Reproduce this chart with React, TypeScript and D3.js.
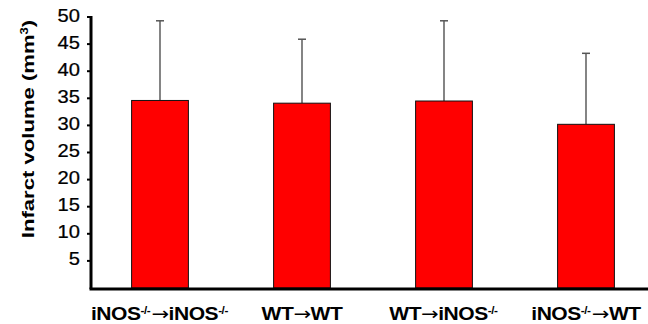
import React from "react";
import * as d3 from "d3";

const categories = ["iNOS-/-→iNOS-/-", "WT→WT", "WT→iNOS-/-", "iNOS-/-→WT"];
const means = [34.6, 34.1, 34.5, 30.2];
const errors = [14.7, 11.8, 14.8, 13.1];
const yTicks = [5, 10, 15, 20, 25, 30, 35, 40, 45, 50];

const W = 648;
const H = 324;
const FONT = "Liberation Sans, Arial, sans-serif";

function renderLabel(label: string) {
  const out: React.ReactNode[] = [];
  const tokens = label.split(/(-\/-|→)/).filter((s) => s.length > 0);
  tokens.forEach((p, i) => {
    if (p === "-/-") {
      out.push(
        <tspan key={i} fontSize={10} dy={-6}>
          -/-
        </tspan>
      );
      out.push(<tspan key={i + "r"} dy={6}>{"\u200A"}</tspan>);
    } else if (p === "→") {
      out.push(
        <tspan key={i} fontFamily="DejaVu Sans" fontWeight="normal" fontSize={18}>
          →
        </tspan>
      );
    } else {
      out.push(<tspan key={i}>{p}</tspan>);
    }
  });
  return out;
}

export default function App() {
  const x = d3
    .scaleBand<string>()
    .domain(categories)
    .range([89, 657])
    .paddingInner(0.6)
    .paddingOuter(0.3);
  const y = d3.scaleLinear().domain([0, 50]).range([288, 17]);
  const axisX = 91;

  return (
    <div style={{ position: "fixed", left: 0, top: 0 }}>
      <svg width={W} height={H} style={{ display: "block", background: "#fff" }}>
        {categories.map((c, i) => {
          const bx = x(c)!;
          const cx = bx + x.bandwidth() / 2;
          return (
            <g key={c}>
              <line
                x1={cx}
                x2={cx}
                y1={y(means[i])}
                y2={y(means[i] + errors[i])}
                stroke="#333"
                strokeWidth={1.2}
              />
              <line
                x1={cx - 4}
                x2={cx + 4}
                y1={y(means[i] + errors[i])}
                y2={y(means[i] + errors[i])}
                stroke="#555"
                strokeWidth={1.5}
              />
              <rect
                x={bx}
                y={y(means[i])}
                width={x.bandwidth()}
                height={y(0) - y(means[i])}
                fill="#ff0000"
                stroke="#111"
                strokeWidth={1}
              />
            </g>
          );
        })}
        <line x1={axisX} x2={axisX} y1={16} y2={289} stroke="#000" strokeWidth={3} />
        <line x1={axisX - 1.5} x2={W} y1={289} y2={289} stroke="#000" strokeWidth={3} />
        {yTicks.map((t) => (
          <g key={t}>
            <line x1={axisX - 4} x2={axisX} y1={y(t)} y2={y(t)} stroke="#000" strokeWidth={2} />
            <text
              transform={`translate(80,${y(t) + 4.5}) scale(1.15,1)`}
              textAnchor="end"
              fontFamily={FONT}
              fontSize={17.5}
              fill="#000"
              stroke="#000"
              strokeWidth={0.25}
            >
              {t}
            </text>
          </g>
        ))}
        {categories.map((c) => (
          <text
            key={c}
            transform={`translate(${x(c)! + x.bandwidth() / 2},320) scale(1.17,1)`}
            textAnchor="middle"
            fontFamily={FONT}
            fontWeight="bold"
            fontSize={18}
            letterSpacing={-0.4}
            fill="#000"
          >
            {renderLabel(c)}
          </text>
        ))}
        <text
          transform="translate(34,129) rotate(-90) scale(1.3,1)"
          textAnchor="middle"
          fontFamily={FONT}
          fontWeight="bold"
          fontSize={17}
          fill="#000"
        >
          Infarct volume (mm
          <tspan fontSize={10} dy={-6}>3</tspan>
          <tspan dy={6}>)</tspan>
        </text>
      </svg>
    </div>
  );
}
